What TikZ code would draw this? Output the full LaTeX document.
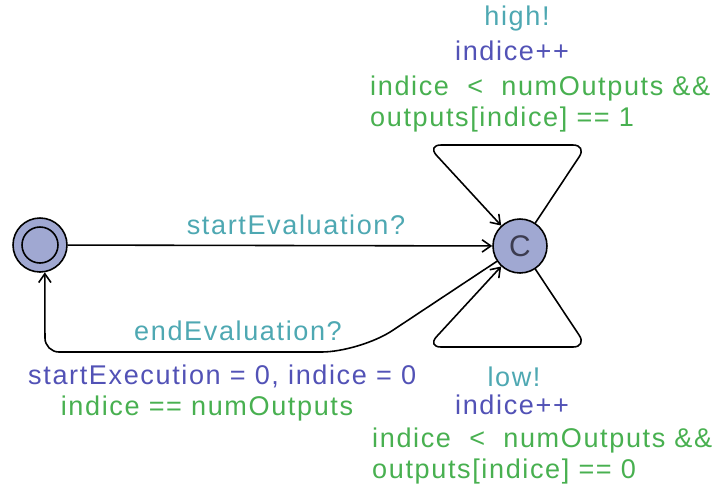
\documentclass[tikz,border=0pt]{standalone}
\usepackage{fontspec}
\setmainfont{Liberation Sans}[LetterSpace=6]
\usetikzlibrary{positioning,arrows.meta}
\definecolor{syncC}{RGB}{78,168,178}
\definecolor{assignC}{RGB}{82,82,182}
\definecolor{guardC}{RGB}{72,176,80}
\definecolor{locC}{RGB}{160,168,210}

\begin{document}
\begin{tikzpicture}[
  x=0.02cm, y=-0.02cm,
  font=\fontsize{15.4}{18.2}\selectfont,
  >={Straight Barb[length=5pt,width=7pt]},
  loc/.style={draw, circle, fill=locC, line width=0.9pt,
              minimum size=1.08cm, inner sep=0pt},
  edge/.style={->, line width=0.9pt},
  sync/.style={text=syncC},
  assign/.style={text=assignC},
  guard/.style={text=guardC, align=left},
]
\useasboundingbox (0,0) rectangle (716,488);

% locations
\node[loc] (init) at (40,245) {};
\node[draw, circle, line width=0.9pt, minimum size=0.72cm, inner sep=0pt] (initIn) at (init) {};
\node[loc, font=\fontsize{17}{20}\selectfont, text={rgb,255:red,60;green,60;blue,80}] (eval) at (520,246) {C};

% edges
\draw[edge] (init) -- (eval);
\draw[edge, rounded corners=8pt] (eval) -- (587,145) -- (427,145) -- (eval);
\draw[edge, rounded corners=8pt] (eval) -- (587,347) -- (427,347) -- (eval);
\draw[edge] (eval) [rounded corners=22pt] -- (360,352) [rounded corners=8pt] -- (45,352) -- (init.-80);

% labels
\node[sync]   (lStart) at (296,225) {startEvaluation?};
\node[sync]   (lEnd)   at (238,331) {endEvaluation?};
\node[assign, anchor=west] (lReset) at (22,376) {startExecution = 0, indice = 0};
\node[guard]  (lDone)  at (207,408) {indice == numOutputs};

\node[sync]   (lHigh)  at (517,18) {high!};
\node[assign] (lIncH)  at (512,51) {indice++};
\node[guard, anchor=west] (lGrdH) at (364,104) {indice\ \ <\ \ numOutputs \&\&\\outputs[indice] == 1};

\node[sync]   (lLow)   at (514,377) {low!};
\node[assign] (lIncL)  at (512,405) {indice++};
\node[guard, anchor=west] (lGrdL) at (366,456) {indice\ \ <\ \ numOutputs \&\&\\outputs[indice] == 0};
\end{tikzpicture}
\end{document}
